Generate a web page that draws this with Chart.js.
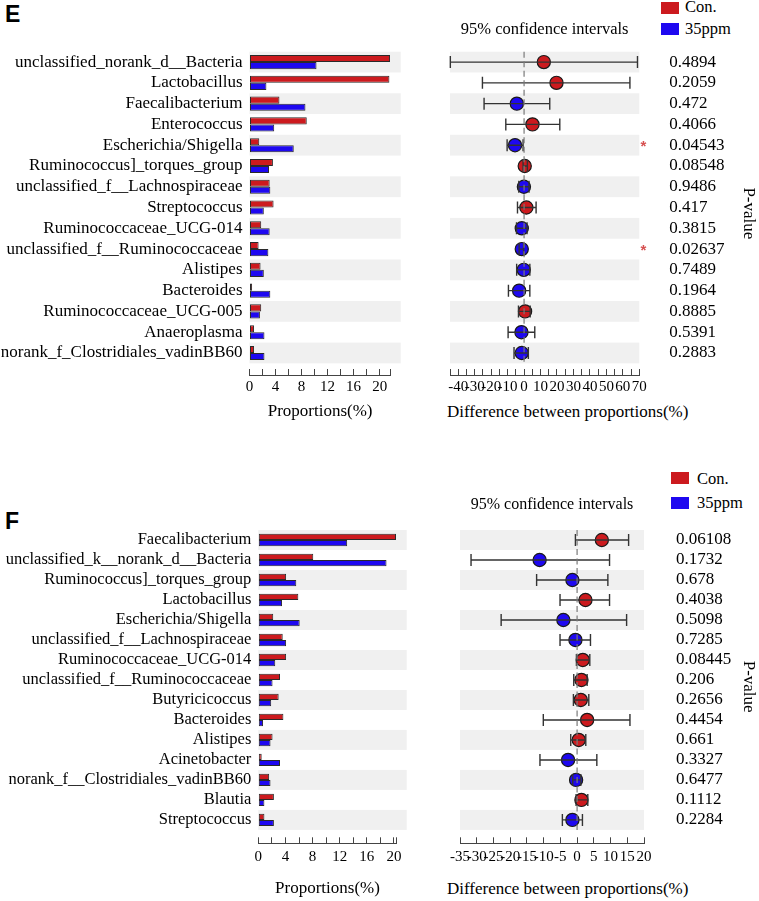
<!DOCTYPE html>
<html>
<head>
<meta charset="utf-8">
<script src="https://cdn.jsdelivr.net/npm/chart.js@4.4.1/dist/chart.umd.min.js"></script>
<style>
body { margin: 0; background: #fff; }
#wrap { position: relative; width: 759px; height: 901px; overflow: hidden; font-family: 'Liberation Serif', 'Times New Roman', serif; }
canvas { position: absolute; }
.tag { position: absolute; font: bold 23px/23px 'Liberation Sans', Arial, sans-serif; }
.box { position: absolute; width: 18px; height: 12px; }
.key { position: absolute; font-size: 16.5px; line-height: 20px; }
.xt { position: absolute; font-size: 17px; line-height: 20px; white-space: nowrap; }
</style>
</head>
<body>
<div id="wrap">
  <div class="tag" style="left:5px;top:3px">E</div>
  <div class="tag" style="left:5px;top:510px">F</div>

  <div class="box" style="left:661px;top:2px;background:rgb(204,26,30)"></div>
  <div class="key" style="left:685px;top:-3px">Con.</div>
  <div class="box" style="left:661px;top:23px;background:rgb(30,8,240)"></div>
  <div class="key" style="left:685px;top:19px">35ppm</div>

  <div class="box" style="left:671px;top:472px;background:rgb(204,26,30)"></div>
  <div class="key" style="left:697px;top:469px">Con.</div>
  <div class="box" style="left:671px;top:497px;background:rgb(30,8,240)"></div>
  <div class="key" style="left:697px;top:493px">35ppm</div>

  <div class="xt" style="left:447px;top:402px">Difference between proportions(%)</div>
  <div class="xt" style="left:447px;top:879px">Difference between proportions(%)</div>

  <canvas id="barsE" width="420" height="430" style="left:0;top:0"></canvas>
  <canvas id="ciE" width="339" height="430" style="left:420px;top:0"></canvas>
  <canvas id="barsF" width="430" height="471" style="left:0;top:430px"></canvas>
  <canvas id="ciF" width="329" height="471" style="left:430px;top:430px"></canvas>
</div>
<script>
"use strict"

// ---- panel E ----
const namesE = ["unclassified_norank_d__Bacteria", "Lactobacillus", "Faecalibacterium", "Enterococcus",
  "Escherichia/Shigella", "Ruminococcus]_torques_group", "unclassified_f__Lachnospiraceae", "Streptococcus",
  "Ruminococcaceae_UCG-014", "unclassified_f__Ruminococcaceae", "Alistipes", "Bacteroides",
  "Ruminococcaceae_UCG-005", "Anaeroplasma", "norank_f_Clostridiales_vadinBB60"]
const conE = [21.6, 21.5, 4.6, 8.8, 1.5, 3.6, 3.1, 3.7, 1.8, 1.4, 1.7, 0.4, 1.8, 0.7, 0.7]
const ppmE = [10.3, 2.6, 8.6, 3.8, 6.8, 3.0, 3.2, 2.2, 3.1, 2.9, 2.2, 3.2, 1.6, 2.3, 2.3]
const diffE = [12.0, 19.7, -4.4, 5.1, -5.5, 0.4, -0.1, 1.4, -1.4, -1.4, -0.2, -3.0, 0.6, -1.6, -1.4]
const lowE = [-44.8, -25.3, -24.3, -11.1, -10.3, -0.6, -3.2, -4.0, -4.6, -3.0, -4.5, -9.5, -3.4, -9.7, -6.1]
const highE = [68.9, 64.3, 15.6, 21.7, -0.6, 2.0, 3.0, 7.3, 1.8, -0.3, 3.5, 3.5, 3.7, 6.5, 2.6]
const pvalE = ["0.4894", "0.2059", "0.472", "0.4066", "0.04543", "0.08548", "0.9486", "0.417",
  "0.3815", "0.02637", "0.7489", "0.1964", "0.8885", "0.5391", "0.2883"]

// ---- panel F ----
const namesF = ["Faecalibacterium", "unclassified_k__norank_d__Bacteria", "Ruminococcus]_torques_group",
  "Lactobacillus", "Escherichia/Shigella", "unclassified_f__Lachnospiraceae", "Ruminococcaceae_UCG-014",
  "unclassified_f__Ruminococcaceae", "Butyricicoccus", "Bacteroides", "Alistipes", "Acinetobacter",
  "norank_f__Clostridiales_vadinBB60", "Blautia", "Streptococcus"]
const conF = [20.3, 8.1, 4.1, 5.9, 2.2, 3.6, 4.1, 3.2, 3.0, 3.7, 2.1, 0.5, 1.6, 2.3, 0.9]
const ppmF = [13.1, 18.9, 5.6, 3.5, 6.1, 4.1, 2.5, 2.1, 1.9, 0.7, 1.8, 3.2, 1.8, 0.9, 2.3]
const diffF = [7.4, -11.2, -1.4, 2.5, -4.1, -0.5, 1.7, 1.3, 1.1, 3.0, 0.5, -2.7, -0.3, 1.3, -1.4]
const lowF = [-0.5, -31.7, -12.1, -5.1, -22.7, -5.1, -0.2, -1.0, -1.1, -10.1, -1.9, -11.1, -1.3, -0.3, -4.4]
const highF = [15.4, 9.7, 9.2, 9.7, 14.8, 4.0, 3.8, 3.0, 3.5, 15.8, 2.6, 5.9, 1.1, 3.2, 1.6]
const pvalF = ["0.06108", "0.1732", "0.678", "0.4038", "0.5098", "0.7285", "0.08445", "0.206",
  "0.2656", "0.4454", "0.661", "0.3327", "0.6477", "0.1112", "0.2284"]

const red = 'rgb(204,26,30)'
const blue = 'rgb(30,8,240)'

Chart.defaults.font.family = "'Liberation Serif', 'Times New Roman', serif"
Chart.defaults.color = '#000'
Chart.defaults.animation = false
Chart.defaults.events = []

// grey bands behind every other row
const stripes = {
  id: 'stripes',
  beforeDatasetsDraw(chart, args, opts) {
    const {ctx, chartArea} = chart
    const y = chart.scales.y
    ctx.save()
    ctx.fillStyle = '#f0f0f0'
    for (let i = 0; i < opts.rows; i += 2) {
      const top = y.getPixelForValue(i - 0.5)
      const bottom = y.getPixelForValue(i + 0.5)
      ctx.fillRect(chartArea.left, top, chartArea.right - chartArea.left + opts.extend, bottom - top)
    }
    ctx.restore()
  }
}

// error bars, zero line and significance stars
const ciMarks = {
  id: 'ciMarks',
  afterDatasetsDraw(chart, args, opts) {
    const {ctx, chartArea} = chart
    const x = chart.scales.x
    const y = chart.scales.y
    const pts = chart.data.datasets[0].data
    ctx.save()
    ctx.strokeStyle = '#333'
    ctx.lineWidth = 1.4
    for (const p of pts) {
      const yc = y.getPixelForValue(p.y)
      const x1 = x.getPixelForValue(p.lo)
      const x2 = x.getPixelForValue(p.hi)
      ctx.beginPath()
      ctx.moveTo(x1, yc); ctx.lineTo(x2, yc)
      ctx.moveTo(x1, yc - 6); ctx.lineTo(x1, yc + 6)
      ctx.moveTo(x2, yc - 6); ctx.lineTo(x2, yc + 6)
      ctx.stroke()
    }
    const x0 = x.getPixelForValue(0)
    ctx.strokeStyle = '#7a7a7a'
    ctx.lineWidth = 1.2
    ctx.setLineDash([6, 3.5])
    ctx.beginPath()
    ctx.moveTo(x0, y.getPixelForValue(-0.5))
    ctx.lineTo(x0, y.getPixelForValue(pts.length - 0.5))
    ctx.stroke()
    ctx.setLineDash([])
    ctx.fillStyle = '#d65050'
    ctx.font = "bold 15px 'Liberation Sans'"
    ctx.textAlign = 'center'
    ctx.textBaseline = 'middle'
    opts.pvals.forEach((s, i) => {
      if (parseFloat(s) < 0.05) ctx.fillText('*', chartArea.right + 4, y.getPixelForValue(i) + 2)
    })
    ctx.restore()
  }
}

function axisTicks(step) {
  return (s) => {
    const t = []
    for (let v = s.min; v <= s.max + 1e-9; v += step) t.push({value: Math.round(v * 100) / 100})
    if (t[t.length - 1].value < s.max - 1e-9) t.push({value: s.max})
    s.ticks = t
  }
}

function barChart(id, names, con, ppm, o) {
  const bar = (vals, color) => ({
    data: vals.map((v, i) => ({x: v, y: i})),
    backgroundColor: color,
    borderColor: '#2a2a2a',
    borderWidth: 1,
    borderSkipped: false,
    categoryPercentage: o.cat,
    barPercentage: 1
  })
  return new Chart(document.getElementById(id), {
    type: 'bar',
    data: {datasets: [bar(con, red), bar(ppm, blue)]},
    options: {
      indexAxis: 'y',
      responsive: false,
      layout: {padding: {top: o.top, right: o.right, left: 0, bottom: 0}},
      plugins: {
        legend: {display: false},
        tooltip: {enabled: false},
        stripes: {rows: names.length, extend: 10}
      },
      scales: {
        y: {
          type: 'linear', reverse: true, offset: false, bounds: 'data', min: -0.5, max: o.yMax,
          afterBuildTicks: (s) => { s.ticks = names.map((n, i) => ({value: i})) },
          afterFit: (s) => { s.width = o.left },
          grid: {display: false, drawTicks: false, offset: false},
          border: {display: false},
          ticks: {autoSkip: false, padding: 7, font: {size: o.labelSize}, callback: (v) => names[v]}
        },
        x: {
          type: 'linear', bounds: 'data', min: 0, max: o.xMax,
          afterBuildTicks: axisTicks(2),
          afterFit: (s) => { s.height = o.axisH },
          grid: {drawOnChartArea: false, tickLength: -6, color: '#444'},
          border: {color: '#444'},
          ticks: {autoSkip: false, maxRotation: 0, padding: o.tickPad, font: {size: 15},
            callback: (v) => (v % 4 === 0 && v <= 20) ? v : ''},
          title: {display: true, text: 'Proportions(%)', font: {size: 17}, padding: {top: 0, bottom: o.titlePad}}
        }
      }
    },
    plugins: [stripes]
  })
}

function ciChart(id, diff, low, high, pvals, o) {
  return new Chart(document.getElementById(id), {
    type: 'scatter',
    data: {
      datasets: [{
        data: diff.map((d, i) => ({x: d, y: i, lo: low[i], hi: high[i]})),
        pointRadius: 6.6,
        pointBorderWidth: 1.2,
        pointBorderColor: '#1a1a1a',
        pointBackgroundColor: (c) => c.raw && c.raw.x > 0 ? red : blue
      }]
    },
    options: {
      responsive: false,
      layout: {padding: {top: 0, right: 0, left: 30, bottom: 0}},
      plugins: {
        legend: {display: false},
        tooltip: {enabled: false},
        title: {display: true, fullSize: false, text: '95% confidence intervals', font: {size: o.headSize, weight: 'normal'},
          padding: {top: o.headTop, bottom: o.headBottom}},
        stripes: {rows: diff.length, extend: 0},
        ciMarks: {pvals: pvals}
      },
      scales: {
        y: {
          type: 'linear', position: 'right', reverse: true, bounds: 'data', min: -0.5, max: o.yMax,
          afterBuildTicks: (s) => { s.ticks = pvals.map((p, i) => ({value: i})) },
          afterFit: (s) => { s.width = o.axisW },
          grid: {display: false, drawTicks: false},
          border: {display: false},
          ticks: {autoSkip: false, padding: o.pPad, font: {size: 17}, callback: (v) => pvals[v]},
          title: {display: true, text: 'P-value', font: {size: 17}, padding: {top: 0, bottom: 0}}
        },
        x: {
          type: 'linear', bounds: 'data', min: o.xMin, max: o.xMax,
          afterBuildTicks: axisTicks(5),
          afterFit: (s) => { s.height = o.axisH },
          grid: {drawOnChartArea: false, tickLength: -6, color: '#444'},
          border: {color: '#444'},
          ticks: {autoSkip: false, maxRotation: 0, padding: o.tickPad, font: {size: 15},
            callback: (v) => (v % o.labelStep === 0) ? v : ''}
        }
      }
    },
    plugins: [stripes, ciMarks]
  })
}

barChart('barsE', namesE, conE, ppmE, {top: 51.7, right: 29.3, left: 249.5, yMax: 15.06, xMax: 21.7,
  axisH: 55, tickPad: 8.7, titlePad: 8, labelSize: 17, cat: 0.68})
ciChart('ciE', diffE, lowE, highE, pvalE, {yMax: 15.06, xMin: -45, xMax: 70, labelStep: 10, axisW: 119.7,
  axisH: 55, tickPad: 8.7, pPad: 30, headSize: 16.5, headTop: 19.4, headBottom: 12.5})
barChart('barsF', namesF, conF, ppmF, {top: 100, right: 33.3, left: 258.3, yMax: 15.17, xMax: 20.4,
  axisH: 57.7, tickPad: 10.4, titlePad: 2, labelSize: 16.5, cat: 0.62})
ciChart('ciF', diffF, lowF, highF, pvalF, {yMax: 15.17, xMin: -35, xMax: 20, labelStep: 5, axisW: 115,
  axisH: 57.7, tickPad: 10.4, pPad: 32, headSize: 16, headTop: 65.4, headBottom: 15.4})
</script>
</body>
</html>
